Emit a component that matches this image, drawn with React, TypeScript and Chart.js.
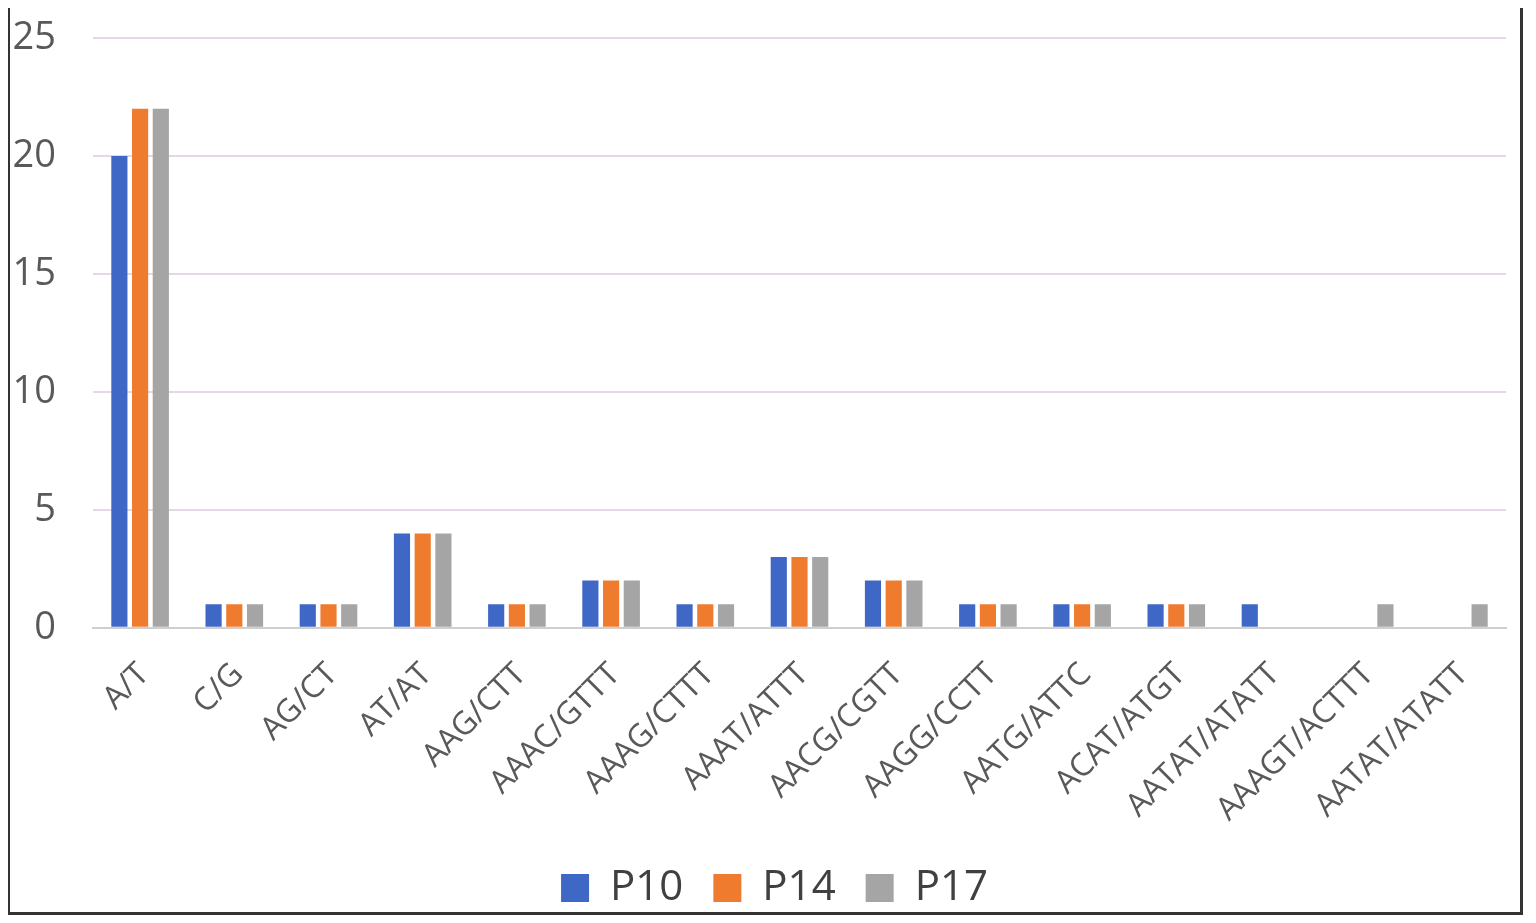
import { useEffect, useRef } from 'react';
import Chart from 'chart.js/auto';

const motifs = [
  'A/T', 'C/G', 'AG/CT', 'AT/AT', 'AAG/CTT', 'AAAC/GTTT', 'AAAG/CTTT', 'AAAT/ATTT',
  'AACG/CGTT', 'AAGG/CCTT', 'AATG/ATTC', 'ACAT/ATGT', 'AATAT/ATATT', 'AAAGT/ACTTT', 'AATAT/ATATT',
];
const p10 = [20, 1, 1, 4, 1, 2, 1, 3, 2, 1, 1, 1, 1, 0, 0];
const p14 = [22, 1, 1, 4, 1, 2, 1, 3, 2, 1, 1, 1, 0, 0, 0];
const p17 = [22, 1, 1, 4, 1, 2, 1, 3, 2, 1, 1, 1, 0, 1, 1];
const yTicks = [0, 5, 10, 15, 20, 25];

const FONT = '"Open Sans", sans-serif';

// nudge the legend a bit to the right, where Excel put it
const legendShift = {
  id: 'legendShift',
  afterLayout(chart: Chart) {
    const lg = chart.legend;
    if (!lg) return;
    lg.left += 15;
    lg.right += 15;
  },
};

export default function App() {
  const canvasRef = useRef<HTMLCanvasElement | null>(null);
  const chartRef = useRef<Chart | null>(null);

  useEffect(() => {
    if (!canvasRef.current) return;
    if (chartRef.current) chartRef.current.destroy();

    chartRef.current = new Chart(canvasRef.current, {
      type: 'bar',
      data: {
        labels: motifs,
        datasets: [
          { label: 'P10', data: p10, backgroundColor: '#3f68c6' },
          { label: 'P14', data: p14, backgroundColor: '#ef7b2e' },
          { label: 'P17', data: p17, backgroundColor: '#a5a5a5' },
        ],
      },
      options: {
        animation: false,
        responsive: true,
        maintainAspectRatio: false,
        datasets: { bar: { categoryPercentage: 0.66, barPercentage: 0.78 } },
        layout: { padding: { left: 3, right: 14, top: 31, bottom: -7 } },
        plugins: {
          tooltip: { enabled: false },
          legend: {
            position: 'bottom',
            labels: {
              boxWidth: 28,
              boxHeight: 28,
              padding: 30,
              color: '#404040',
              font: { family: FONT, size: 42 },
            },
          },
        },
        scales: {
          x: {
            grid: { display: false },
            border: { color: '#cfcfcf', width: 2 },
            afterFit: (scale) => {
              // let the rotated first label hang into the margin, as in the original
              scale.paddingLeft = 0;
              scale.paddingRight = 0;
              scale.height -= 12;
            },
            ticks: {
              minRotation: 45,
              maxRotation: 45,
              autoSkip: false,
              color: '#595959',
              padding: 20,
              labelOffset: 4,
              font: { family: FONT, size: 32 },
            },
          },
          y: {
            min: 0,
            max: 25,
            afterBuildTicks: (axis) => {
              axis.ticks = yTicks.map((v) => ({ value: v }));
            },
            afterFit: (scale) => {
              scale.paddingTop = 0;
              scale.width = 80;
            },
            border: { display: false },
            grid: { color: '#e4d8e6', lineWidth: 2, drawTicks: false },
            ticks: {
              color: '#595959',
              padding: 37,
              font: { family: FONT, size: 38 },
            },
          },
        },
      },
      plugins: [legendShift],
    });

    return () => {
      if (chartRef.current) {
        chartRef.current.destroy();
        chartRef.current = null;
      }
    };
  }, []);

  return (
    <div
      style={{
        position: 'relative',
        boxSizing: 'border-box',
        width: 1516,
        height: 911,
        marginLeft: -1,
        marginTop: -4,
        border: '3px solid #333',
        background: '#fff',
      }}
    >
      <canvas ref={canvasRef} />
    </div>
  );
}
